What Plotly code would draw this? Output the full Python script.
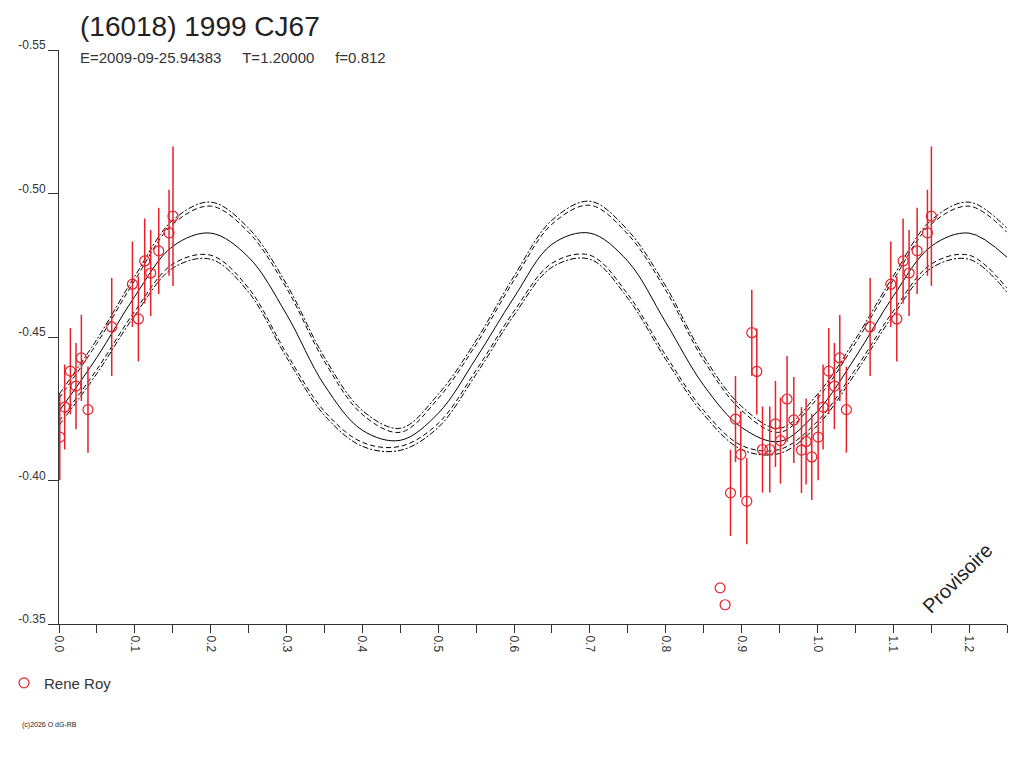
import plotly.graph_objects as go

# observations (phase, reduced magnitude, 1-sigma error)
phase = [0.001, 0.0075, 0.015, 0.0224, 0.0295, 0.0382, 0.0695, 0.0968, 0.1047,
         0.113, 0.1209, 0.1315, 0.1451, 0.1503,
         0.8717, 0.8783, 0.8854, 0.892, 0.899, 0.9069, 0.9135, 0.9201, 0.9276,
         0.9372, 0.9447, 0.9513, 0.96, 0.9689, 0.979, 0.9851, 0.9926]
mag = [-0.4151, -0.4256, -0.4381, -0.4329, -0.4427, -0.4247, -0.4535, -0.4684, -0.4563,
       -0.4765, -0.4723, -0.4800, -0.4863, -0.4921,
       -0.3626, -0.3567, -0.3957, -0.4214, -0.4091, -0.3928, -0.4515, -0.4380, -0.4108,
       -0.4108, -0.4197, -0.4139, -0.4284, -0.4211, -0.4106, -0.4136, -0.4082]
err = [0.015, 0.0148, 0.015, 0.015, 0.015, 0.015, 0.0171, 0.0149, 0.0148,
       0.0148, 0.015, 0.015, 0.015, 0.0243,
       0.0, 0.0, 0.015, 0.015, 0.015, 0.015, 0.015, 0.015, 0.015,
       0.015, 0.015, 0.015, 0.015, 0.015, 0.015, 0.015, 0.015]

# fitted curve and envelopes, read every 0.05 in phase from 0.00 to 1.00
curve_phase = [0.00, 0.05, 0.10, 0.15, 0.20, 0.25, 0.30, 0.35, 0.40, 0.45, 0.50,
               0.55, 0.60, 0.65, 0.70, 0.75, 0.80, 0.85, 0.90, 0.95, 1.00]
fit = [-0.4241, -0.4429, -0.4642, -0.4816, -0.4862, -0.4778, -0.4579, -0.4332, -0.4175, -0.4140, -0.4234,
       -0.4426, -0.4638, -0.4823, -0.4862, -0.4764, -0.4551, -0.4332, -0.4185, -0.4136, -0.4241]
up_dashdot = [-0.4300, -0.4492, -0.4712, -0.4907, -0.4970, -0.4879, -0.4684, -0.4429, -0.4244, -0.4182, -0.4300,
              -0.4488, -0.4712, -0.4907, -0.4973, -0.4872, -0.4677, -0.4433, -0.4258, -0.4182, -0.4300]
up_dash = [-0.4286, -0.4478, -0.4698, -0.4893, -0.4956, -0.4865, -0.4670, -0.4415, -0.4230, -0.4168, -0.4286,
           -0.4474, -0.4698, -0.4893, -0.4959, -0.4858, -0.4663, -0.4419, -0.4244, -0.4168, -0.4286]
lo_dash = [-0.4206, -0.4387, -0.4590, -0.4754, -0.4785, -0.4670, -0.4443, -0.4241, -0.4133, -0.4119, -0.4199,
           -0.4384, -0.4590, -0.4757, -0.4785, -0.4649, -0.4436, -0.4244, -0.4122, -0.4108, -0.4206]
lo_dashdot = [-0.4192, -0.4373, -0.4576, -0.4740, -0.4771, -0.4656, -0.4429, -0.4227, -0.4119, -0.4105, -0.4185,
              -0.4370, -0.4576, -0.4743, -0.4771, -0.4635, -0.4422, -0.4230, -0.4108, -0.4094, -0.4192]

x_ticks = [0.0, 0.1, 0.2, 0.3, 0.4, 0.5, 0.6, 0.7, 0.8, 0.9, 1.0, 1.1, 1.2]
y_ticks = [-0.55, -0.50, -0.45, -0.40, -0.35]

RED = '#e8202a'
FONT = 'Liberation Sans, Arial, sans-serif'
GAP = '&nbsp;' * 5

title = ("<span style='font-size:28px;color:#222'>(16018) 1999 CJ67</span><br>"
         f"<span style='font-size:15px'>E=2009-09-25.94383{GAP}T=1.20000{GAP}f=0.812</span>")


def wrap(xs, ys, limit=0.25):
    # repeat the start of the cycle after phase 1
    xx = list(xs) + [x + 1.0 for x in xs if 0 < x <= limit]
    yy = list(ys) + [y for x, y in zip(xs, ys) if 0 < x <= limit]
    return xx, yy


fig = go.Figure()

for ys, dash in [(up_dashdot, '6px,2px,2px,2px'), (up_dash, '5px,3px'),
                 (fit, 'solid'),
                 (lo_dash, '5px,3px'), (lo_dashdot, '6px,2px,2px,2px')]:
    cx, cy = wrap(curve_phase, ys)
    fig.add_trace(go.Scatter(x=cx, y=cy, mode='lines', line_shape='spline',
                             line=dict(color='black', width=1, dash=dash),
                             showlegend=False, hoverinfo='skip'))

px_all = phase + [p + 1.0 for p in phase if p < 0.25]
mg_all = mag + [m for p, m in zip(phase, mag) if p < 0.25]
er_all = err + [e for p, e in zip(phase, err) if p < 0.25]

fig.add_trace(go.Scatter(
    x=px_all, y=mg_all, mode='markers', name='Rene Roy',
    marker=dict(symbol='circle-open', size=10, color=RED, line=dict(width=1.2)),
    error_y=dict(type='data', array=er_all, visible=True, color=RED, thickness=1.5, width=0),
))

# the page body adds 8px, so the margins are shifted to keep the plot box in place
fig.update_layout(
    width=1024, height=768,
    margin=dict(l=51, r=25, t=42, b=152, autoexpand=False),
    paper_bgcolor='white', plot_bgcolor='white',
    font=dict(family=FONT, color='#333', size=12),
    legend=dict(x=-0.058, y=-0.103, xanchor='left', yanchor='middle', itemwidth=30,
                font=dict(size=15, color='#333'), bgcolor='rgba(0,0,0,0)'),
    xaxis=dict(range=[0, 1.25], tickvals=x_ticks, ticktext=[f'{v:.1f}' for v in x_ticks],
               tickangle=90, ticks='outside', ticklen=8, tickcolor='#333',
               showline=True, linecolor='#333', linewidth=1, showgrid=False, zeroline=False,
               minor=dict(ticks='outside', ticklen=8, dtick=0.05, tick0=0, tickcolor='#333'),
               tickfont=dict(size=12, color='#333')),
    yaxis=dict(range=[-0.35, -0.55], tickvals=y_ticks, ticktext=[f'{v:.2f}' for v in y_ticks],
               ticks='outside', ticklen=10, tickcolor='#333', ticklabelshift=5,
               showline=True, linecolor='#333', linewidth=1, showgrid=False, zeroline=False,
               tickfont=dict(size=12, color='#333')),
    annotations=[
        dict(text=title, x=0.02, y=1.071, xref='paper', yref='paper', align='left',
             xanchor='left', yanchor='top', showarrow=False, font=dict(size=21, color='#333')),
        dict(text='Provisoire', x=0.948, y=0.080, xref='paper', yref='paper',
             xanchor='center', yanchor='middle',
             textangle=-45, showarrow=False, font=dict(size=20, color='#222')),
        dict(text='(c)2026 O dG-RB', x=-0.041, y=-0.176, xref='paper', yref='paper',
             xanchor='left', yanchor='middle', showarrow=False, font=dict(size=7, color='#222')),
    ],
)

fig.write_html('out.html')
